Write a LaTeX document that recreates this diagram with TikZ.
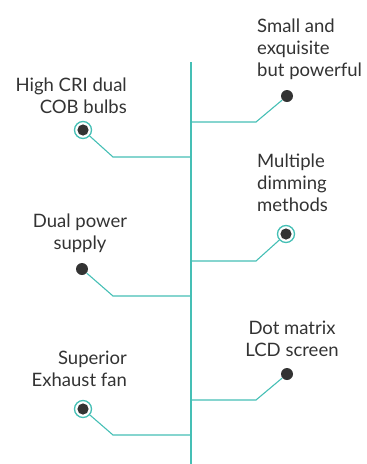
\documentclass[tikz,border=0pt]{standalone}
\usepackage{fontspec}
\setmainfont{Lato}
\usetikzlibrary{calc}
\definecolor{teal1}{HTML}{45BFB5}
\definecolor{ink}{HTML}{333333}
\begin{document}
\begin{tikzpicture}[x=1pt,y=-1pt]
\tikzset{dot/.style = {circle, fill=ink, minimum size=12pt, inner sep=0pt},
         ringdot/.style = {circle, draw=teal1, line width=1.3pt, fill=white, minimum size=17pt, inner sep=0pt,
            path picture={\fill[ink] (path picture bounding box.center) circle (5.6pt);}},
         branch/.style = {draw=teal1, line width=1.1pt},
         label/.style = {text=ink, inner sep=0pt, font=\fontsize{18.5}{22}\selectfont}}
\useasboundingbox (0,0) rectangle (367,464);
\def\spine{191}
\def\rknee{256}
\def\lknee{113}
% spine
\coordinate (top) at (\spine,62);
\coordinate (bot) at (\spine,464);
\draw[branch] (top) -- (bot);

% right side
\coordinate (R1) at (\spine,122); \coordinate (R1k) at (\rknee,122);
\node[dot] (d1) at (287,96) {};
\draw[branch] (R1) -- (R1k) -- (d1);
\node[label,anchor=west,align=left] (t1) at (257,49) {Small and\\exquisite\\but powerful};

\coordinate (R2) at (\spine,261); \coordinate (R2k) at (\rknee,261);
\node[ringdot] (d2) at (286,234) {};
\draw[branch] (R2) -- (R2k) -- (d2);
\node[label,anchor=west,align=left] (t2) at (257,183) {Multiple\\dimming\\methods};

\coordinate (R3) at (\spine,400); \coordinate (R3k) at (\rknee,400);
\node[dot] (d3) at (287,374) {};
\draw[branch] (R3) -- (R3k) -- (d3);
\node[label,align=center] (t3) at (292,339) {Dot matrix\\LCD screen};

% left side
\coordinate (L1) at (\spine,157); \coordinate (L1k) at (\lknee,157);
\node[ringdot] (d4) at (83,130) {};
\draw[branch] (L1) -- (L1k) -- (d4);
\node[label,anchor=east,align=right] (t4) at (127,96) {High CRI dual\\COB bulbs};

\coordinate (L2) at (\spine,296); \coordinate (L2k) at (\lknee,296);
\node[dot] (d5) at (82,269) {};
\draw[branch] (L2) -- (L2k) -- (d5);
\node[label,align=center] (t5) at (80,233) {Dual power\\supply};

\coordinate (L3) at (\spine,435); \coordinate (L3k) at (\lknee,435);
\node[ringdot] (d6) at (83,409) {};
\draw[branch] (L3) -- (L3k) -- (d6);
\node[label,anchor=east,align=right] (t6) at (127,369) {Superior\\Exhaust fan};
\end{tikzpicture}
\end{document}
